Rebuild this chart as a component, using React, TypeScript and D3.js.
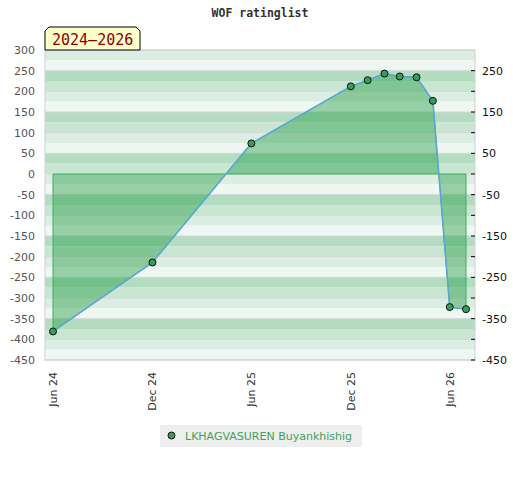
import React from 'react';
import * as d3 from 'd3';

// monthly rating list values
const dates = [
  '2024-06-01', '2024-12-01', '2025-06-01', '2025-12-01', '2026-01-01', '2026-02-01',
  '2026-03-01', '2026-04-01', '2026-05-01', '2026-06-01', '2026-07-01',
];
const ratings = [-381, -214, 74, 212, 227, 243, 236, 234, 177, -322, -327];

const xTickDates = ['2024-06-01', '2024-12-01', '2025-06-01', '2025-12-01', '2026-06-01'];
const leftTicks = d3.range(-450, 301, 50);
const rightLabels = [250, 150, 50, -50, -150, -250, -350, -450];
const seriesName = 'LKHAGVASUREN Buyankhishig';
const title = 'WOF ratinglist';
const periodLabel = '2024–2026';

const W = 520;
const H = 480;
const plot = { left: 45, right: 475, top: 50, bottom: 360 };

const bandColors: Record<number, string> = {
  50: '#b3dcc1',
  25: '#c9e6d3',
  0: '#dcede3',
  75: '#eff7f2',
};

const parse = d3.utcParse('%Y-%m-%d');

const App: React.FC = () => {
  const points = dates.map((d, i) => ({ date: parse(d) as Date, value: ratings[i] }));

  const x = d3.scaleUtc()
    .domain(d3.extent(points, d => d.date) as [Date, Date])
    .range([53, 466]);

  const y = d3.scaleLinear()
    .domain([-450, 300])
    .range([plot.bottom, plot.top]);

  const area = d3.area<{ date: Date; value: number }>()
    .x(d => x(d.date))
    .y0(y(0))
    .y1(d => y(d.value));

  const line = d3.line<{ date: Date; value: number }>()
    .x(d => x(d.date))
    .y(d => y(d.value));

  // 25-unit background bands
  const bandTops = d3.range(300, -450, -25);
  const fmt = d3.utcFormat('%b %y');

  const green = '#33a05a';

  return (
    <svg width={W} height={H} style={{ position: 'absolute', left: 0, top: 0, background: '#fff' }}>
      <text x={W / 2} y={17} textAnchor="middle" fontFamily="'DejaVu Sans Mono', monospace"
        fontWeight="bold" fontSize={11.5} fill="#333">{title}</text>

      {/* background bands */}
      {bandTops.map(t => (
        <rect key={t} x={plot.left} width={plot.right - plot.left}
          y={y(t)} height={y(t - 25) - y(t)}
          fill={bandColors[((t % 100) + 100) % 100]} />
      ))}
      {leftTicks.map(v => (
        <line key={v} x1={plot.left} x2={plot.right} y1={y(v)} y2={y(v)}
          stroke="#d6d6d6" strokeWidth={1} />
      ))}
      <rect x={plot.left} y={plot.top} width={plot.right - plot.left} height={plot.bottom - plot.top}
        fill="none" stroke="#cfcfcf" strokeWidth={1} />

      {/* left axis */}
      {leftTicks.map(v => (
        <text key={v} x={35} y={y(v)} dy="0.35em" textAnchor="end"
          fontFamily="'DejaVu Sans', sans-serif" fontSize={11} fill="#555">{v}</text>
      ))}

      {/* right axis */}
      {leftTicks.filter(v => v < 300).map(v => (
        <line key={v} x1={471} x2={475} y1={y(v)} y2={y(v)} stroke="#000" strokeWidth={1} />
      ))}
      {rightLabels.map(v => (
        <text key={v} x={482} y={y(v)} dy="0.35em" textAnchor="start"
          fontFamily="'DejaVu Sans', sans-serif" fontSize={11} fill="#111">{v}</text>
      ))}

      {/* x axis */}
      {xTickDates.map(d => {
        const px = x(parse(d) as Date);
        return (
          <text key={d} transform={`translate(${px},372) rotate(-90)`} dy="0.35em" textAnchor="end"
            fontFamily="'DejaVu Sans', sans-serif" fontSize={11} fill="#333">
            {fmt(parse(d) as Date)}
          </text>
        );
      })}

      {/* series */}
      <path d={area(points) as string} fill="rgba(20,150,55,0.4)" stroke="#3cae60" strokeWidth={1} />
      <path d={line(points) as string} fill="none" stroke="#5ba6d9" strokeWidth={1.5} />
      {points.map((p, i) => (
        <circle key={i} cx={x(p.date)} cy={y(p.value)} r={3.5}
          fill={green} stroke="#111" strokeWidth={1} />
      ))}

      {/* period label */}
      <polygon points="45,50 45,31 49,27 136,27 140,31 140,50" fill="#ffffcc" stroke="#000" strokeWidth={1} />
      <text x={52} y={45} fontFamily="'DejaVu Sans Mono', monospace" fontSize={15} fill="#8b0000">
        {periodLabel}
      </text>

      {/* legend */}
      <rect x={160} y={425} width={202} height={22} fill="#eeeeee" />
      <circle cx={171.5} cy={435.5} r={3.5} fill={green} stroke="#111" strokeWidth={1} />
      <text x={185} y={436} dy="0.35em" fontFamily="'DejaVu Sans', sans-serif" fontSize={11} fill="#3aa35f">
        {seriesName}
      </text>
    </svg>
  );
};

export default App;
